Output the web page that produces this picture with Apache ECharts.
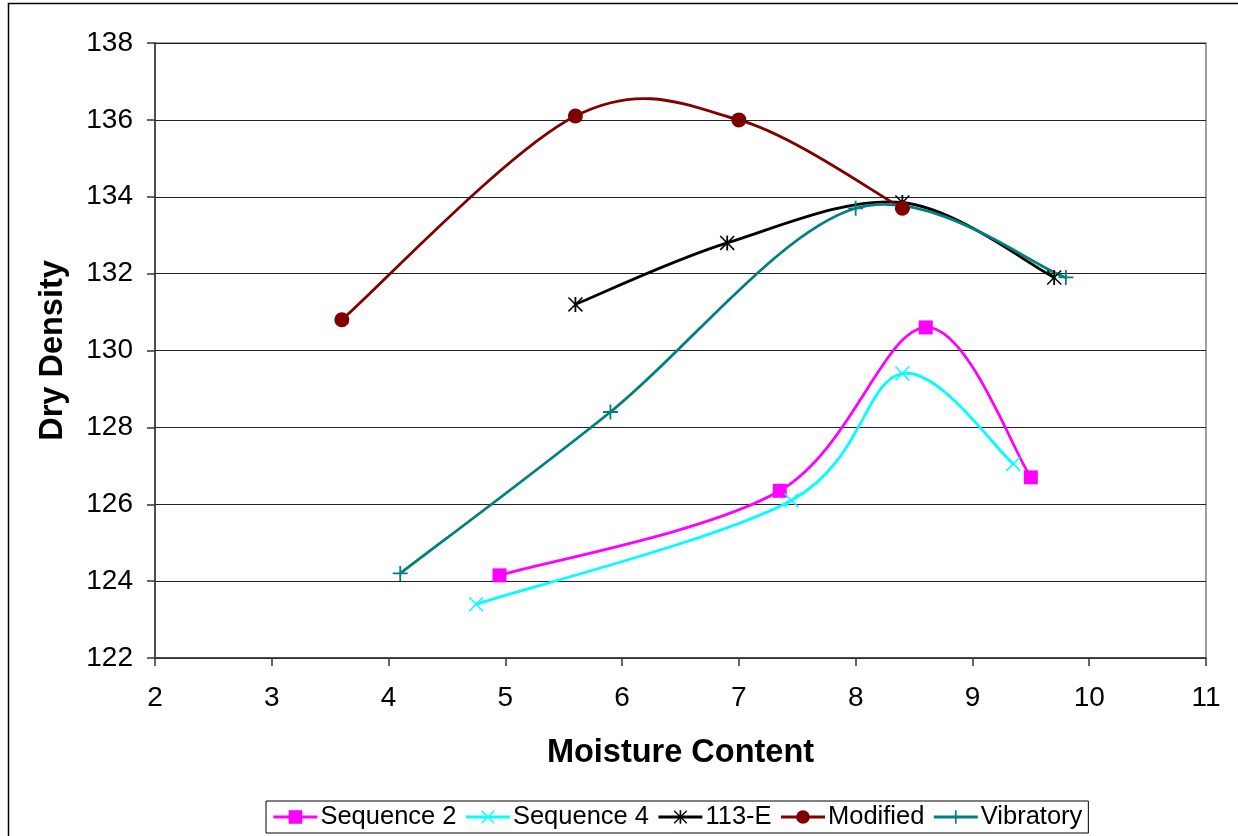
<!DOCTYPE html>
<html>
<head>
<meta charset="utf-8">
<script src="https://cdn.jsdelivr.net/npm/echarts@6/dist/echarts.min.js"></script>
<style>
  html, body { margin: 0; padding: 0; background: #fff; }
  #chart { width: 1238px; height: 836px; }
</style>
</head>
<body>
<div id="chart"></div>
<script>
// Compaction test results: moisture content (%) vs dry density
const seriesNames = ['Sequence 2', 'Sequence 4', '113-E', 'Modified', 'Vibratory'];

const seq2Moisture = [4.95, 7.35, 8.6, 9.5];
const seq2Density  = [124.15, 126.35, 130.6, 126.7];

const seq4Moisture = [4.75, 7.45, 8.4, 9.35];
const seq4Density  = [123.4, 126.1, 129.4, 127.05];

const e113Moisture = [5.6, 6.9, 8.4, 9.7];
const e113Density  = [131.2, 132.8, 133.85, 131.9];

const modMoisture  = [3.6, 5.6, 7.0, 8.4];
const modDensity   = [130.8, 136.1, 136.0, 133.7];

const vibMoisture  = [4.1, 5.9, 8.0, 9.8];
const vibDensity   = [124.2, 128.4, 133.7, 131.9];

const xTicks = [2, 3, 4, 5, 6, 7, 8, 9, 10, 11];
const yTicks = [122, 124, 126, 128, 130, 132, 134, 136, 138];

const colors = ['#FF00FF', '#00FFFF', '#000000', '#800000', '#008080'];

const pair = (xs, ys) => xs.map((x, i) => [x, ys[i]]);

// marker outlines built from thin filled bars
const plusPath = 'path://M0,4.4H10V5.6H0Z M4.4,0H5.6V10H4.4Z';
const crossPath = 'path://M0,0.7L0.7,0L10,9.3L9.3,10Z M9.3,0L10,0.7L0.7,10L0,9.3Z';
const starPath = 'path://M0,0.7L0.7,0L10,9.3L9.3,10Z M9.3,0L10,0.7L0.7,10L0,9.3Z M4.4,0H5.6V10H4.4Z';

const FONT = 'Liberation Sans, Arial, sans-serif';
const LINE_W = 2.8;

// Smoothed connecting curve: cubic Bezier segments whose tangents follow the
// neighbouring points (Catmull-Rom style), computed in pixel space from api.coord.
function curveRenderItem(color) {
  return function (params, api) {
    if (params.dataIndexInside !== 0) return null;
    const n = params.dataInsideLength;
    const p = [];
    for (let i = 0; i < n; i++) {
      p.push(api.coord([api.value(0, i), api.value(1, i)]));
    }
    const children = [];
    for (let i = 0; i < n - 1; i++) {
      const prev = p[Math.max(i - 1, 0)];
      const a = p[i];
      const b = p[i + 1];
      const next = p[Math.min(i + 2, n - 1)];
      const c1 = [a[0] + (b[0] - prev[0]) / 6, a[1] + (b[1] - prev[1]) / 6];
      const c2 = [b[0] - (next[0] - a[0]) / 6, b[1] - (next[1] - a[1]) / 6];
      children.push({
        type: 'bezierCurve',
        shape: { x1: a[0], y1: a[1], cpx1: c1[0], cpy1: c1[1], cpx2: c2[0], cpy2: c2[1], x2: b[0], y2: b[1] },
        style: { fill: null, stroke: color, lineWidth: LINE_W, lineCap: 'round' }
      });
    }
    return { type: 'group', children: children };
  };
}

function curveSeries(idx, xs, ys) {
  return {
    name: seriesNames[idx] + ' curve',
    type: 'custom',
    renderItem: curveRenderItem(colors[idx]),
    data: pair(xs, ys),
    encode: { x: 0, y: 1 },
    z: 2 + idx * 0.01,
    silent: true,
    animation: false
  };
}

function markerSeries(idx, xs, ys, symbol, size) {
  return {
    name: seriesNames[idx],
    type: 'line',
    data: pair(xs, ys),
    symbol: symbol,
    symbolSize: size,
    showAllSymbol: true,
    lineStyle: { color: colors[idx], width: LINE_W, opacity: 0 },
    itemStyle: { color: colors[idx], borderWidth: 0 },
    emphasis: { disabled: true },
    z: 3 + idx * 0.01,
    animation: false
  };
}

const chart = echarts.init(document.getElementById('chart'), null, { renderer: 'canvas' });

chart.setOption({
  backgroundColor: '#ffffff',
  animation: false,
  graphic: [{
    type: 'rect',
    shape: { x: 8.5, y: 3.5, width: 1300, height: 900 },
    style: { fill: 'none', stroke: '#000', lineWidth: 1.5 },
    silent: true,
    z: -1
  }],
  grid: {
    left: 155, right: 32, top: 43, bottom: 178,
    show: true,
    borderColor: '#808080',
    borderWidth: 1.5,
    backgroundColor: 'transparent'
  },
  legend: {
    data: seriesNames.map((name, i) => ({
      name: name,
      lineStyle: { color: colors[i], width: LINE_W, opacity: 1 }
    })),
    left: 266,
    bottom: 3,
    orient: 'horizontal',
    itemWidth: 44,
    itemHeight: 17,
    itemGap: 8,
    padding: [3, 6, 3, 6],
    borderColor: '#000',
    borderWidth: 1,
    textStyle: { fontFamily: FONT, fontSize: 25.5, color: '#000', padding: [0, 0, 0, -2] }
  },
  xAxis: {
    type: 'value',
    min: xTicks[0],
    max: xTicks[xTicks.length - 1],
    interval: 1,
    name: 'Moisture Content',
    nameLocation: 'middle',
    nameGap: 79,
    nameTextStyle: { fontFamily: FONT, fontSize: 32.5, fontWeight: 'bold', color: '#000' },
    axisLine: { show: true, lineStyle: { color: '#333', width: 1.5 } },
    axisTick: { show: true, inside: false, length: 8, lineStyle: { color: '#333', width: 1.5 } },
    axisLabel: { margin: 26, fontFamily: FONT, fontSize: 28, color: '#000' },
    splitLine: { show: false }
  },
  yAxis: {
    type: 'value',
    min: yTicks[0],
    max: yTicks[yTicks.length - 1],
    interval: 2,
    name: 'Dry Density',
    nameLocation: 'middle',
    nameGap: 85,
    nameTextStyle: { fontFamily: FONT, fontSize: 32.5, fontWeight: 'bold', color: '#000' },
    axisLine: { show: true, lineStyle: { color: '#333', width: 1.5 } },
    axisTick: { show: true, inside: false, length: 8, lineStyle: { color: '#333', width: 1.5 } },
    axisLabel: { margin: 22, fontFamily: FONT, fontSize: 28, color: '#000' },
    splitLine: { show: true, lineStyle: { color: '#222', width: 1.2 } }
  },
  series: [
    markerSeries(0, seq2Moisture, seq2Density, 'rect', 14),
    markerSeries(1, seq4Moisture, seq4Density, crossPath, 15),
    markerSeries(2, e113Moisture, e113Density, starPath, 15),
    markerSeries(3, modMoisture, modDensity, 'circle', 15),
    markerSeries(4, vibMoisture, vibDensity, plusPath, 15),
    curveSeries(0, seq2Moisture, seq2Density),
    curveSeries(1, seq4Moisture, seq4Density),
    curveSeries(2, e113Moisture, e113Density),
    curveSeries(3, modMoisture, modDensity),
    curveSeries(4, vibMoisture, vibDensity)
  ]
});
</script>
</body>
</html>
